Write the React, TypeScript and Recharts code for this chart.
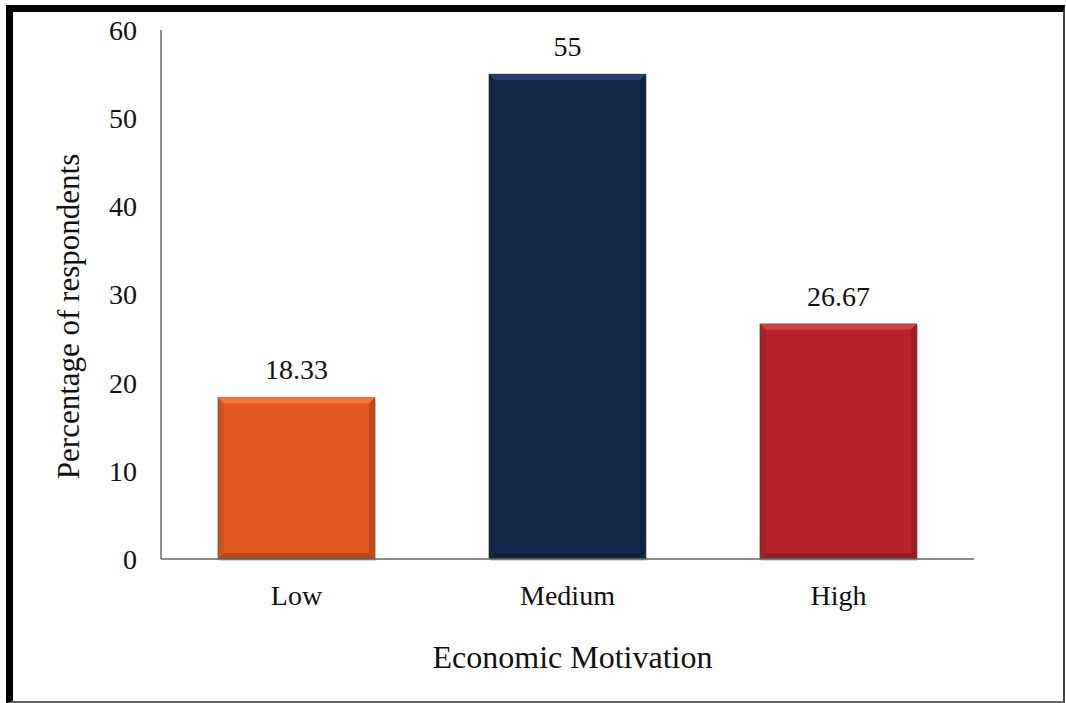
import React from 'react';
import { BarChart, Bar, XAxis, YAxis, LabelList, Cell } from 'recharts';

const categories = ['Low', 'Medium', 'High'];
const values = [18.33, 55, 26.67];
const valueLabels = ['18.33', '55', '26.67'];
const yTicks = [0, 10, 20, 30, 40, 50, 60];
const colors = ['#E2581F', '#14294C', '#B82329'];
const topColors = ['#F08040', '#2A4470', '#D04848'];

const data = categories.map((c, i) => ({ name: c, value: values[i], label: valueLabels[i] }));

const FONT = '"Liberation Serif", "Times New Roman", serif';

const BevelBar = (props: any) => {
  const { x, y, width, height, index } = props;
  if (height <= 0) return null;
  const b = 6;
  return (
    <g>
      <rect x={x + 1} y={y + 2} width={width} height={height} fill="#00000025" />
      <rect x={x} y={y} width={width} height={height} fill={colors[index]} stroke="#3a2a20" strokeOpacity={0.4} strokeWidth={1} />
      <polygon points={`${x},${y} ${x + width},${y} ${x + width - b},${y + b} ${x + b},${y + b}`} fill={topColors[index]} opacity={0.8} />
      <polygon points={`${x},${y} ${x + b},${y + b} ${x + b},${y + height - b} ${x},${y + height}`} fill="#00000014" />
      <polygon points={`${x + width},${y} ${x + width - b},${y + b} ${x + width - b},${y + height - b} ${x + width},${y + height}`} fill="#00000026" />
      <polygon points={`${x},${y + height} ${x + b},${y + height - b} ${x + width - b},${y + height - b} ${x + width},${y + height}`} fill="#00000030" />
    </g>
  );
};

const YLabel = (props: any) => {
  const { viewBox } = props;
  const cy = viewBox.y + viewBox.height / 2 + 22;
  return (
    <text
      x={68}
      y={cy}
      transform={`rotate(-90, 68, ${cy})`}
      textAnchor="middle"
      dominantBaseline="central"
      fontFamily={FONT}
      fontSize={31}
      fill="#111"
    >
      Percentage of respondents
    </text>
  );
};

const XLabel = (props: any) => {
  const { viewBox } = props;
  const cx = viewBox.x + viewBox.width / 2 + 5;
  return (
    <text x={cx} y={668} textAnchor="middle" fontFamily={FONT} fontSize={32} fill="#111">
      Economic Motivation
    </text>
  );
};

export default function App() {
  return (
    <div style={{ position: 'absolute', left: 0, top: 0, width: 1066, height: 703, background: '#fff' }}>
      <div
        style={{
          position: 'absolute',
          left: 6,
          top: 5,
          width: 1059,
          height: 698,
          boxSizing: 'border-box',
          borderLeft: '7px solid #000',
          borderTop: '7px solid #000',
          borderRight: '2px solid #444',
          borderBottom: '2px solid #666',
        }}
      />
      <div style={{ position: 'absolute', left: 0, top: 0 }}>
        <BarChart
          width={1066}
          height={703}
          data={data}
          margin={{ top: 30, right: 92, bottom: 0, left: 0 }}
          barCategoryGap="21%"
        >
          <XAxis
            dataKey="name"
            height={144}
            tickLine={false}
            tickSize={0}
            tickMargin={26}
            axisLine={{ stroke: '#666', strokeWidth: 1.5 }}
            tick={{ fontFamily: FONT, fontSize: 28, fill: '#111' }}
            label={<XLabel />}
          />
          <YAxis
            width={161}
            domain={[0, 60]}
            ticks={yTicks}
            interval={0}
            tickLine={false}
            tickSize={0}
            tickMargin={24}
            axisLine={{ stroke: '#666', strokeWidth: 1.5 }}
            tick={{ fontFamily: FONT, fontSize: 28, fill: '#111' }}
            label={<YLabel />}
          />
          <Bar dataKey="value" isAnimationActive={false} shape={<BevelBar />}>
            {data.map((d, i) => (
              <Cell key={d.name} fill={colors[i]} />
            ))}
            <LabelList
              dataKey="label"
              position="top"
              offset={18}
              style={{ fontFamily: FONT, fontSize: 28, fill: '#111' }}
            />
          </Bar>
        </BarChart>
      </div>
    </div>
  );
}
